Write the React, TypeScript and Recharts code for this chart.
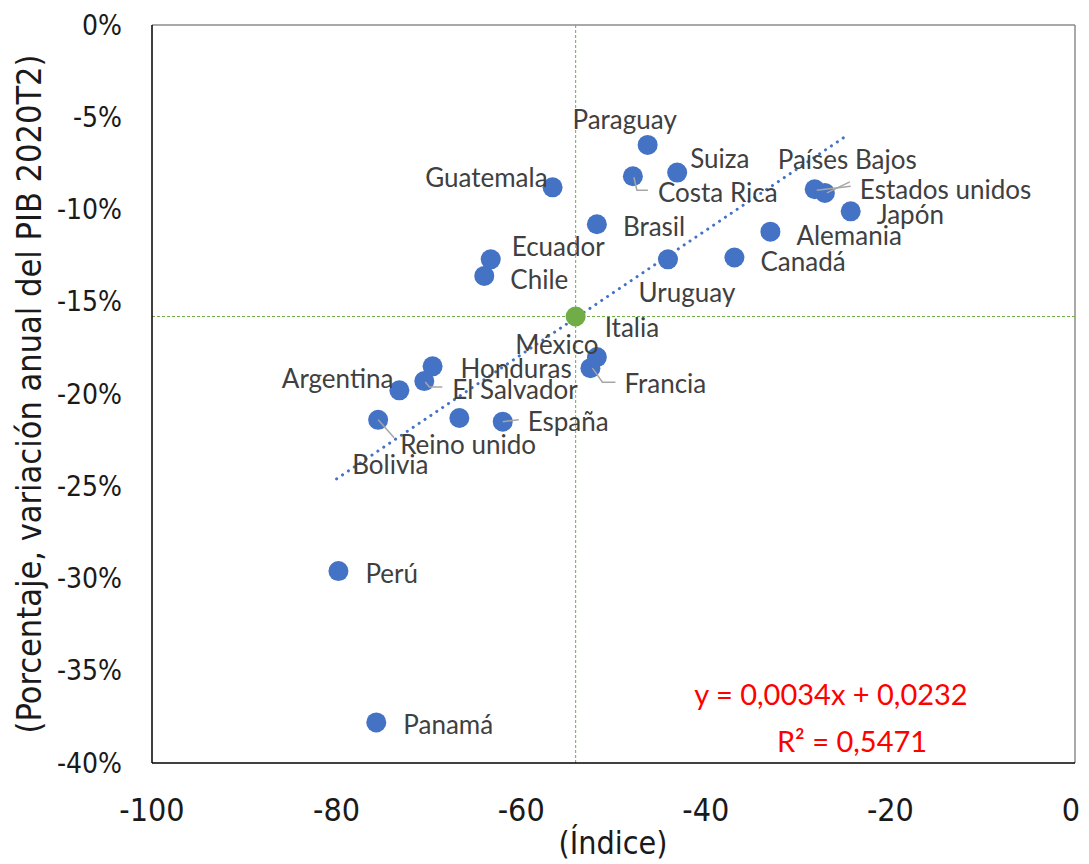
import React from 'react';
import { ScatterChart, Scatter, XAxis, YAxis, ReferenceLine } from 'recharts';

// Índice de movilidad (x) vs variación anual del PIB 2020T2 (y, %)
const countries = [
  'Paraguay', 'Suiza', 'Costa Rica', 'Guatemala', 'Países Bajos', 'Estados unidos',
  'Japón', 'Brasil', 'Alemania', 'Ecuador', 'Canadá', 'Uruguay', 'Chile', 'Italia',
  'México', 'Honduras', 'Francia', 'Argentina', 'El Salvador', 'Reino unido',
  'Bolivia', 'España', 'Perú', 'Panamá',
];
const mobility = [
  -46.3, -43.1, -47.9, -56.6, -28.2, -27.1,
  -24.3, -51.8, -33.0, -63.3, -36.9, -44.1, -64.0, -54.1,
  -51.8, -69.6, -52.5, -73.2, -70.5, -75.5,
  -66.7, -62.0, -79.8, -75.7,
];
const gdpChange = [
  -6.5, -8.0, -8.2, -8.8, -8.9, -9.1,
  -10.1, -10.8, -11.2, -12.7, -12.6, -12.7, -13.6, -15.8,
  -18.0, -18.5, -18.6, -19.8, -19.3, -21.4,
  -21.3, -21.5, -29.6, -37.8,
];
const highlighted = 'Italia';

// tendencia lineal (extremos)
const trendX = [-80, -24.6];
const trendY = [-24.6, -5.95];

const xTicks = [-100, -80, -60, -40, -20, 0];
const yTicks = [-40, -35, -30, -25, -20, -15, -10, -5, 0];

const xTitle = '(Índice)';
const yTitle = '(Porcentaje, variación anual del PIB 2020T2)';
const equation = 'y = 0,0034x + 0,0232';
const rSquared = 'R² = 0,5471';

// posición de las etiquetas respecto del punto
type LabelPos = { dx: number; dy: number; anchor?: 'start' | 'middle' | 'end'; leader?: number[][] };
const labelPos: Record<string, LabelPos> = {
  'Paraguay': { dx: -23, dy: -26, anchor: 'middle' },
  'Suiza': { dx: 13, dy: -15 },
  'Costa Rica': { dx: 25, dy: 16, leader: [[1, 1], [4, 14], [15, 14]] },
  'Guatemala': { dx: -5, dy: -10, anchor: 'end' },
  'Países Bajos': { dx: -37, dy: -30, leader: [[2, 1], [36, -3]] },
  'Estados unidos': { dx: 35, dy: -4, leader: [[2, 0], [25, -11]] },
  'Japón': { dx: 26, dy: 3 },
  'Brasil': { dx: 26, dy: 2 },
  'Alemania': { dx: 26, dy: 3 },
  'Ecuador': { dx: 21, dy: -13 },
  'Canadá': { dx: 26, dy: 4 },
  'Uruguay': { dx: 19, dy: 33, anchor: 'middle' },
  'Chile': { dx: 26, dy: 3 },
  'Italia': { dx: 29, dy: 10 },
  'México': { dx: -40, dy: -13, anchor: 'middle' },
  'Honduras': { dx: 28, dy: 2 },
  'Francia': { dx: 34, dy: 15, leader: [[2, 0], [12, 14], [25, 14]] },
  'Argentina': { dx: -6, dy: -12, anchor: 'end' },
  'El Salvador': { dx: 28, dy: 8, leader: [[1, 1], [5, 6], [18, 6]] },
  'Reino unido': { dx: 22, dy: 24, leader: [[0, 0], [16, 18]] },
  'Bolivia': { dx: -69, dy: 46, anchor: 'middle' },
  'España': { dx: 25, dy: -1, leader: [[0, 0], [16, -2]] },
  'Perú': { dx: 27, dy: 2 },
  'Panamá': { dx: 27, dy: 2 },
};

const allPoints = countries.map((name, i) => ({ name, x: mobility[i], y: gdpChange[i] }));
const bluePoints = allPoints.filter((p) => p.name !== highlighted);
const greenPoints = allPoints.filter((p) => p.name === highlighted);
const trendData = trendX.map((x, i) => ({ x, y: trendY[i] }));

const BLUE = '#4472C4';
const GREEN = '#70AD47';
const INK = '#1a1a1a';
const narrow = '"DejaVu Sans Condensed", "Liberation Sans Narrow", sans-serif';
const labelFont = 'Lato, "Open Sans", sans-serif';

const dot = (fill: string) => (props: any) => (
  <circle cx={props.cx} cy={props.cy} r={10} fill={fill} />
);

const labelShape = (props: any) => {
  const { cx, cy, payload } = props;
  const pos = labelPos[payload.name];
  if (!pos) return <g />;
  return (
    <g>
      {pos.leader && (
        <polyline
          points={pos.leader.map(([a, b]) => `${cx + a},${cy + b}`).join(' ')}
          fill="none"
          stroke="#A6A6A6"
          strokeWidth={1.5}
        />
      )}
      <text
        x={cx + pos.dx}
        y={cy + pos.dy}
        textAnchor={pos.anchor ?? 'start'}
        dominantBaseline="central"
        fontFamily={labelFont}
        fontSize={26}
        fill="#404040"
      >
        {payload.name}
      </text>
    </g>
  );
};

const YTick = (props: any) => {
  const { x, y, payload } = props;
  return (
    <text x={x} y={y} textAnchor="end" dominantBaseline="central" fontFamily={narrow} fontSize={28} fill={INK}>
      {`${payload.value}%`}
    </text>
  );
};

const XTick = (props: any) => {
  const { x, y, payload } = props;
  // el último rótulo queda pegado al borde: se corre un poco a la izquierda
  const shift = payload.value === 0 ? -4 : 0;
  return (
    <text x={x + shift} y={y} textAnchor="middle" dominantBaseline="hanging" fontFamily={narrow} fontSize={32} fill={INK}>
      {payload.value}
    </text>
  );
};

export default function App() {
  const hx = greenPoints[0].x;
  const hy = greenPoints[0].y;
  return (
    <div style={{ position: 'relative', width: 1073, height: 856 }}>
      <ScatterChart width={1073} height={848} margin={{ top: 17, right: 6, bottom: 0, left: 0 }}>
        <XAxis
          type="number"
          dataKey="x"
          domain={[-100, 0]}
          ticks={xTicks}
          tickLine={false}
          tickSize={0}
          tickMargin={34}
          tick={<XTick />}
          height={93}
          axisLine={{ stroke: '#000', strokeWidth: 1.5 }}
        />
        <YAxis
          type="number"
          dataKey="y"
          domain={[-40, 0]}
          ticks={yTicks}
          tickLine={false}
          tickSize={0}
          tickMargin={30}
          tick={<YTick />}
          width={144}
          axisLine={{ stroke: '#000', strokeWidth: 1.5 }}
          label={{
            content: ({ viewBox }: any) => {
              const cy = viewBox.y + viewBox.height / 2;
              return (
                <text
                  x={21}
                  y={cy}
                  transform={`rotate(-90 21 ${cy})`}
                  textAnchor="middle"
                  dominantBaseline="central"
                  fontFamily={narrow}
                  fontSize={34}
                  fill={INK}
                >
                  {yTitle}
                </text>
              );
            },
          }}
        />
        <ReferenceLine y={0} stroke="#8C8C8C" strokeWidth={1.5} />
        <ReferenceLine x={0} stroke="#8C8C8C" strokeWidth={1.5} />
        <ReferenceLine x={hx} stroke={GREEN} strokeWidth={1} strokeDasharray="3 2" />
        <ReferenceLine y={hy} stroke={GREEN} strokeWidth={1} strokeDasharray="3 2" />
        <Scatter data={bluePoints} fill={BLUE} shape={dot(BLUE)} isAnimationActive={false} />
        <Scatter
          data={trendData}
          fill={BLUE}
          line={{ stroke: BLUE, strokeWidth: 3, strokeDasharray: '0.1 7', strokeLinecap: 'round' }}
          lineType="joint"
          shape={() => <g />}
          isAnimationActive={false}
        />
        <Scatter data={greenPoints} fill={GREEN} shape={dot(GREEN)} isAnimationActive={false} />
        <Scatter data={allPoints} fill="none" shape={labelShape} isAnimationActive={false} />
      </ScatterChart>
      <div
        style={{
          position: 'absolute', left: 605, top: 835, transform: 'translate(-50%, -50%)',
          fontFamily: narrow, fontSize: 32, color: INK, whiteSpace: 'nowrap', lineHeight: 1,
        }}
      >
        {xTitle}
      </div>
      <div
        style={{
          position: 'absolute', left: 823, top: 685, transform: 'translate(-50%, -50%)',
          fontFamily: labelFont, fontSize: 29, color: '#FF0000', whiteSpace: 'nowrap',
        }}
      >
        {equation}
      </div>
      <div
        style={{
          position: 'absolute', left: 844, top: 732, transform: 'translate(-50%, -50%)',
          fontFamily: labelFont, fontSize: 29, color: '#FF0000', whiteSpace: 'nowrap',
        }}
      >
        {rSquared}
      </div>
    </div>
  );
}
